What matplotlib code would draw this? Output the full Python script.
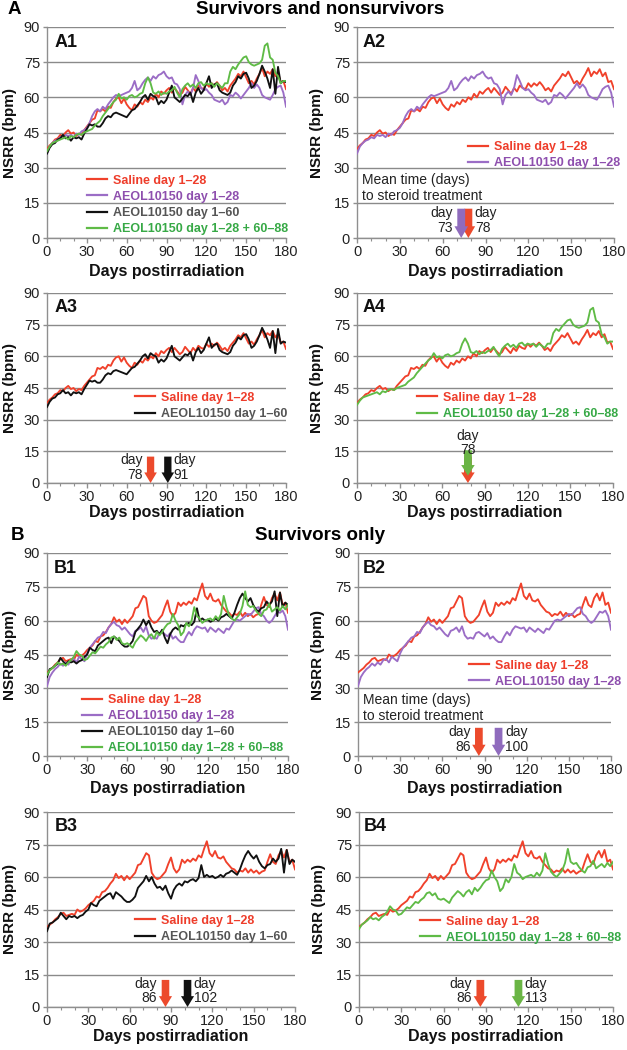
import matplotlib
matplotlib.use('Agg')
import matplotlib.pyplot as plt
from matplotlib.ticker import MultipleLocator
from matplotlib.lines import Line2D

plt.rcParams['font.family'] = ['Liberation Sans', 'DejaVu Sans']

# ---------------- data ----------------
days = list(range(0, 181, 2))

saline_A = [38, 39.5, 40.5, 42, 42.5, 44, 43.5, 45, 46, 44.5,
            45, 43.5, 44.5, 44, 46, 47.5, 49, 50.5, 51, 54.5,
            54, 55, 54, 56, 55.5, 58, 59.5, 60, 57.5, 59.5,
            57, 55.5, 54.5, 57, 56, 58, 57, 59, 58, 60,
            59, 61.5, 60, 62.5, 61.5, 63, 64, 62, 64, 62.5,
            61, 62, 64.5, 63, 61.5, 64, 62.5, 65, 64, 63.5,
            66, 64.5, 66, 65, 66.5, 65, 63, 64, 62.5, 65,
            66.5, 68, 70, 69, 71, 68.5, 66, 67, 65.5, 68,
            70, 72.5, 69, 71, 70, 72, 69, 70.5, 66.5, 67,
            63.5]
aeol28_A = [36, 39, 40.5, 41.5, 42, 43, 42.5, 44, 43.5, 44,
            43, 44.5, 44, 45.5, 46, 47, 49, 52, 54, 55,
            54, 56, 55, 57, 58.5, 60, 61, 60.5, 61, 61.5,
            62, 62.5, 64, 67, 63, 64, 66, 67.5, 68.5, 67,
            69, 68, 69.5, 70, 71, 69, 68, 68.5, 66, 65.5,
            63.5, 57, 61, 62.5, 61, 64, 69.5, 67, 64, 63,
            63.5, 62, 61, 59, 58.5, 58, 59, 57, 58, 61,
            60.5, 62, 61, 59.5, 61, 62.5, 64, 66, 64, 65.5,
            64, 61, 60, 59.5, 59, 61, 63.5, 64.5, 65, 62,
            56]
aeol60_A = [36, 38.5, 40, 40.5, 42, 42.5, 44, 42.5, 43, 41.5,
            43, 42.5, 43, 42, 44.5, 46.5, 48.5, 48, 48.5, 47.5,
            47.5, 49, 51, 52, 51.5, 53, 53.5, 53, 52.5, 52,
            51.5, 53, 54.5, 55, 56.5, 58, 60, 61, 59, 61.5,
            60.5, 60, 57, 58.5, 57.5, 59, 62, 65, 60, 59,
            58, 59.5, 61, 60.5, 62, 58, 62, 64, 61.5, 63,
            66, 69, 64, 65.5, 66, 63, 62, 61.5, 61, 62,
            65, 66.5, 69, 68, 70, 70.5, 68, 64, 65, 67,
            70, 73.5, 71, 68, 64, 72, 61.5, 73, 66, 67,
            66.5]
aeol2860_A = [37, 39, 40.5, 41, 41.5, 42, 42.5, 43, 42, 43.5,
              43, 44, 44.5, 44, 45, 45.5, 46, 46.5, 48, 49,
              50, 52, 53.5, 55, 56.5, 58, 59, 61.5, 59.5, 60,
              59, 60.5, 61, 60, 60.5, 61.5, 62, 66, 68.5, 66,
              62, 61.5, 62.5, 61, 62, 61.5, 62.5, 63, 64.5, 62,
              60, 63.5, 65, 66, 64.5, 65.5, 64, 66, 66.5, 65,
              66, 65.5, 66, 64.5, 66, 65, 64, 66, 66, 71,
              73, 72, 74, 75.5, 77, 77.5, 75, 74, 73.5, 74,
              74.5, 76, 82, 83, 77, 76, 70.5, 69, 66, 67,
              67]

saline_B = [37, 38, 39, 40.5, 41.5, 43, 43.5, 42, 42.5, 43,
            42.5, 45, 44, 44.5, 45.5, 47, 48, 49, 51, 50.5,
            53, 53.5, 55, 57, 58.5, 61.5, 59.5, 60.5, 58.5, 60.5,
            59, 60.5, 62, 65.5, 66, 68.5, 71, 70, 62, 60,
            59, 59.5, 61, 62.5, 66, 69, 64, 62, 63.5, 68,
            66.5, 68, 67, 68.5, 67.5, 70, 69, 73, 76.5, 71,
            69.5, 72, 69, 68.5, 69.5, 67, 65.5, 64, 63.5, 62,
            63, 62.5, 64, 62, 63.5, 62, 63, 61.5, 62.5, 63,
            67, 70.5, 67, 66, 70, 72, 69, 72.5, 67, 68,
            63.5]
aeol28_B = [31, 35, 37, 38.5, 39.5, 41, 40, 41.5, 40.5, 42.5,
            43, 41.5, 44, 43, 42, 45.5, 48, 49.5, 51, 52.5,
            53, 55, 54.5, 57, 58.5, 59.5, 58, 57.5, 56, 57,
            55.5, 54, 53, 55.5, 56, 57, 55, 57.5, 53.5, 52,
            52.5, 52, 54.5, 55, 54, 53, 54.5, 52, 53, 51.5,
            50.5, 50.5, 53, 55, 53.5, 56, 57.5, 57, 56.5, 57,
            55, 57, 56, 55, 56.5, 55.5, 54.5, 56.5, 56, 58,
            60, 60.5, 60, 61, 62, 63, 62.5, 64, 65.5, 66,
            63, 62, 60, 59, 60, 62, 64, 63.5, 64.5, 62,
            56]
aeol60_B = [35, 38.5, 39, 40, 41, 43.5, 42, 40.5, 42, 41.5,
            42, 41, 42, 42.5, 44, 45, 48, 47, 46.5, 49,
            50, 51, 52, 52.5, 50, 53, 52, 51, 49.5, 48.5,
            48.5, 49.5, 51, 55, 56.5, 58, 60.5, 58, 60, 57,
            55, 55.5, 54, 56, 52.5, 50, 54, 56, 57, 56,
            58, 57.5, 58.5, 59, 58, 59.5, 65.5, 60, 61, 60,
            60.5, 59.5, 60, 61, 60, 61.5, 62, 63, 62, 61,
            63.5, 67, 70, 72, 70, 68.5, 70, 67, 65, 64,
            65.5, 66, 68.5, 67, 68.5, 73, 62, 72.5, 66, 68,
            67]
aeol2860_B = [36, 38, 39, 40, 41.5, 40.5, 41, 40, 41.5, 42.5,
              44, 46.5, 45, 44.5, 42.5, 43, 44.5, 46, 45.5, 47,
              48.5, 48, 49.5, 50.5, 52.5, 53, 51.5, 52.5, 50, 49.5,
              50, 49, 48, 50.5, 52, 53.5, 52.5, 51, 53, 54,
              52, 55, 53.5, 55, 57, 58.5, 59, 63, 60, 58,
              53.5, 55, 59, 57.5, 60, 66, 62, 61, 59, 60,
              60.5, 61, 60, 62, 60.5, 63, 71, 66, 62.5, 61,
              60, 61.5, 63, 66.5, 73, 67, 66, 66.5, 64.5, 63,
              62, 64.5, 65, 67.5, 64, 65, 66, 64.5, 66.5, 65,
              67]

labels = {
    'saline': 'Saline day 1\u201328',
    'aeol28': 'AEOL10150 day 1\u201328',
    'aeol60': 'AEOL10150 day 1\u201360',
    'aeol2860': 'AEOL10150 day 1\u201328 + 60\u201388',
}
steroid_A = {'saline': 78, 'aeol28': 73, 'aeol60': 91, 'aeol2860': 78}
steroid_B = {'saline': 86, 'aeol28': 100, 'aeol60': 102, 'aeol2860': 113}

yticks = [0, 15, 30, 45, 60, 75, 90]
xticks = [0, 30, 60, 90, 120, 150, 180]

series_A = {'saline': saline_A, 'aeol28': aeol28_A, 'aeol60': aeol60_A, 'aeol2860': aeol2860_A}
series_B = {'saline': saline_B, 'aeol28': aeol28_B, 'aeol60': aeol60_B, 'aeol2860': aeol2860_B}

# ---------------- style ----------------
LINE = {'saline': '#f0412b', 'aeol28': '#9b6dc6', 'aeol60': '#111111', 'aeol2860': '#5fbb46'}
TEXT = {'saline': '#ee3d2b', 'aeol28': '#8e4fae', 'aeol60': '#555555', 'aeol2860': '#37a946'}
ARROW = {'saline': '#ec4a2c', 'aeol28': '#8f6bbd', 'aeol60': '#111111', 'aeol2860': '#6ab545'}

W, H = 627, 1050
fig = plt.figure(figsize=(W / 100, H / 100), dpi=100)


def rect(l, t, r, b):
    return [l / W, 1 - b / H, (r - l) / W, (b - t) / H]


panels = [
    dict(name='A1', rect=rect(47, 27, 286, 238), data=series_A, ster=steroid_A,
         keys=['saline', 'aeol28', 'aeol60', 'aeol2860'], leg=(0.167, 0.300), arrows=False, note=False),
    dict(name='A2', rect=rect(357, 27, 614, 238), data=series_A, ster=steroid_A,
         keys=['saline', 'aeol28'], leg=(0.432, 0.458), arrows=True, note=True),
    dict(name='A3', rect=rect(47, 293, 286, 483), data=series_A, ster=steroid_A,
         keys=['saline', 'aeol60'], leg=(0.368, 0.480), arrows=True, note=False),
    dict(name='A4', rect=rect(357, 293, 613, 483), data=series_A, ster=steroid_A,
         keys=['saline', 'aeol2860'], leg=(0.234, 0.480), arrows=True, note=False),
    dict(name='B1', rect=rect(47, 553, 288, 756), data=series_B, ster=steroid_B,
         keys=['saline', 'aeol28', 'aeol60', 'aeol2860'], leg=(0.145, 0.305), arrows=False, note=False),
    dict(name='B2', rect=rect(358, 553, 611, 756), data=series_B, ster=steroid_B,
         keys=['saline', 'aeol28'], leg=(0.439, 0.475), arrows=True, note=True),
    dict(name='B3', rect=rect(47, 812, 295, 1007), data=series_B, ster=steroid_B,
         keys=['saline', 'aeol60'], leg=(0.355, 0.473), arrows=True, note=False),
    dict(name='B4', rect=rect(359, 812, 613, 1007), data=series_B, ster=steroid_B,
         keys=['saline', 'aeol2860'], leg=(0.24, 0.468), arrows=True, note=False),
]


def draw_arrow(ax, x, color, top=12.5, bottom=0.0):
    ax.arrow(x, top, 0, bottom - top, width=5.5, head_width=9.5, head_length=5.0,
             length_includes_head=True, color=color, lw=0, zorder=4)


for p in panels:
    ax = fig.add_axes(p['rect'])
    for k in p['keys']:
        ax.plot(days, p['data'][k], color=LINE[k], lw=1.35, zorder=3)
    ax.set_xlim(0, 180)
    ax.set_ylim(0, 90)
    ax.set_xticks(xticks)
    ax.set_yticks(yticks)
    ax.xaxis.set_minor_locator(MultipleLocator(10))
    ax.grid(axis='y', color='#8a8a8a', lw=1.0, zorder=1)
    ax.set_axisbelow(True)
    for s in ['top', 'right']:
        ax.spines[s].set_visible(False)
    for s in ['left', 'bottom']:
        ax.spines[s].set_color('#8f8f8f')
        ax.spines[s].set_linewidth(1.0)
    ax.tick_params(axis='both', which='major', labelsize=10.5, color='#8f8f8f',
                   labelcolor='#222222', length=3.5, width=1)
    ax.tick_params(axis='x', which='major', pad=1.5)
    ax.tick_params(axis='y', which='major', pad=2, length=3)
    ax.tick_params(axis='x', which='minor', color='#8f8f8f', length=2.5, width=0.8)
    left_col = p['rect'][0] < 0.3
    ax.text(0.03 if left_col else 0.02, 0.925, p['name'], transform=ax.transAxes,
            fontsize=13, fontweight='bold', va='center', ha='left', color='#111111')

    handles = [Line2D([], [], color=LINE[k], lw=1.6) for k in p['keys']]
    leg = ax.legend(handles, [labels[k] for k in p['keys']], loc='upper left',
                    bbox_to_anchor=p['leg'], frameon=False, borderpad=0, borderaxespad=0,
                    handlelength=1.6, handletextpad=0.5, labelspacing=0.33,
                    prop={'weight': 'bold', 'size': 9})
    for t, k in zip(leg.get_texts(), p['keys']):
        t.set_color(TEXT[k])

    if p['note']:
        ax.text(0.02, 0.308, 'Mean time (days)\nto steroid treatment', transform=ax.transAxes,
                fontsize=10, va='top', ha='left', color='#222222', linespacing=1.15)

    if p['arrows']:
        k1, k2 = p['keys']
        d1, d2 = p['ster'][k1], p['ster'][k2]
        if d1 == d2:
            draw_arrow(ax, d1, ARROW[k1])
            draw_arrow(ax, d2, ARROW[k2], top=15.5, bottom=3.5)
            ax.text(d1, 19.0, 'day\n%d' % d1, ha='center', va='center', fontsize=10,
                    color='#222222', linespacing=1.05, zorder=5)
        else:
            order = sorted([(d1, k1), (d2, k2)])
            if p['name'] == 'A2':
                draw_arrow(ax, order[1][0], ARROW[order[1][1]])
                draw_arrow(ax, order[0][0], ARROW[order[0][1]])
            else:
                for d, k in order:
                    draw_arrow(ax, d, ARROW[k])
            ax.text(order[0][0] - 6.0, 7.4, 'day\n%d' % order[0][0], ha='right', va='center',
                    fontsize=10, color='#222222', linespacing=1.05, multialignment='right')
            ax.text(order[1][0] + 4.5, 7.4, 'day\n%d' % order[1][0], ha='left', va='center',
                    fontsize=10, color='#222222', linespacing=1.05, multialignment='left')

    # axis labels
    l, b, w, h = p['rect']
    fig.text((l - 37 / W) if left_col else (l - 40 / W), b + h / 2, 'NSRR (bpm)', rotation=90,
             ha='center', va='center', fontsize=11, fontweight='bold', color='#111111')

# x labels
for yy, cols in [(272, (0, 1)), (512, (2, 3)), (788, (4, 5)), (1037, (6, 7))]:
    for c in cols:
        l, b, w, h = panels[c]['rect']
        fig.text(l + w / 2, 1 - yy / H, 'Days postirradiation', ha='center', va='center',
                 fontsize=11.5, fontweight='bold', color='#111111')

fig.text(14 / W, 1 - 10 / H, 'A', ha='center', va='center', fontsize=13.5, fontweight='bold')
fig.text(17 / W, 1 - 536 / H, 'B', ha='center', va='center', fontsize=13.5, fontweight='bold')
fig.text(320 / W, 1 - 10 / H, 'Survivors and nonsurvivors', ha='center', va='center',
         fontsize=13.5, fontweight='bold')
fig.text(320 / W, 1 - 536 / H, 'Survivors only', ha='center', va='center',
         fontsize=13.5, fontweight='bold')

fig.savefig('out.png', dpi=100, facecolor='white')
